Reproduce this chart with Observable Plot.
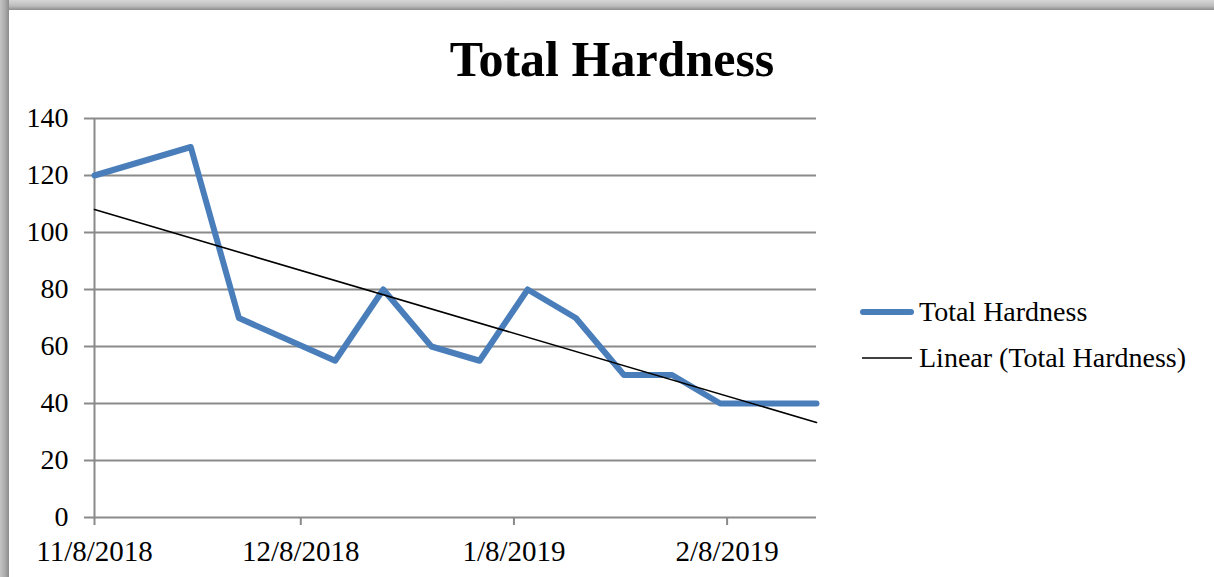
<!DOCTYPE html>
<html>
<head>
<meta charset="utf-8">
<script src="https://cdn.jsdelivr.net/npm/d3@7"></script>
<script src="https://cdn.jsdelivr.net/npm/@observablehq/plot@0.6"></script>
<style>
  html, body { margin: 0; padding: 0; background: #fff; overflow: hidden; }
  #wrap { position: relative; width: 1214px; height: 577px; }
  #topband { position: absolute; left: 0; top: 0; width: 1214px; height: 10px;
    background: linear-gradient(#d6d6d6, #bcbcbc 60%, #8c8c8c); }
  #leftband { position: absolute; left: 0; top: 0; width: 9px; height: 577px;
    background: linear-gradient(90deg, #c4c4c4, #a8a8a8 60%, #8a8a8a); }
  svg { position: absolute; left: 0; top: 0; }
</style>
</head>
<body>
<div id="wrap"><div id="chart"></div><div id="topband"></div><div id="leftband"></div></div>
<script>
const dates = ["2018-11-08","2018-11-22","2018-11-29","2018-12-13","2018-12-20","2018-12-27",
               "2019-01-03","2019-01-10","2019-01-17","2019-01-24","2019-01-31","2019-02-07",
               "2019-02-14","2019-02-21"];
const values = [120,130,70,55,80,60,55,80,70,50,50,40,40,40];
const xTickDates = ["2018-11-08","2018-12-08","2019-01-08","2019-02-08"];
const xTickLabels = ["11/8/2018","12/8/2018","1/8/2019","2/8/2019"];
const yTicks = [0,20,40,60,80,100,120,140];
const title = "Total Hardness";
const seriesName = "Total Hardness";
const trendName = "Linear (Total Hardness)";

const data = dates.map((d, i) => ({date: new Date(d + "T00:00:00Z"), value: values[i]}));
const tickDates = xTickDates.map(d => new Date(d + "T00:00:00Z"));
const labelOf = new Map(tickDates.map((d, i) => [+d, xTickLabels[i]]));

const font = "'Liberation Serif', 'DejaVu Serif', serif";
const gridColor = "#8a8a8a";

const plot = Plot.plot({
  width: 1214,
  height: 577,
  marginLeft: 94,
  marginRight: 398,
  marginTop: 118,
  marginBottom: 60,
  style: {fontFamily: font, fontSize: "28px", color: "#000", background: "transparent"},
  x: {type: "utc", domain: [data[0].date, data[data.length - 1].date]},
  y: {domain: [0, 140]},
  marks: [
    Plot.gridY(yTicks, {stroke: gridColor, strokeOpacity: 1, strokeWidth: 2}),
    Plot.ruleX([data[0].date], {y1: 0, y2: 140, stroke: gridColor, strokeWidth: 2}),
    Plot.axisY(yTicks, {tickSize: 10, tickPadding: 16, stroke: gridColor, strokeWidth: 2,
      fontSize: 28, label: null, tickFormat: d => String(d)}),
    Plot.axisX(tickDates, {tickSize: 8, tickPadding: 15, stroke: gridColor, strokeWidth: 2,
      fontSize: 29, label: null, tickFormat: d => labelOf.get(+d)}),
    Plot.line(data, {x: "date", y: "value", stroke: "#4a7ebb", strokeWidth: 6,
      strokeLinejoin: "round", strokeLinecap: "round"}),
    Plot.linearRegressionY(data, {x: "date", y: "value", ci: 0, stroke: "#000", strokeWidth: 1.6})
  ]
});

const svg = d3.select(plot);
svg.append("text")
  .attr("x", 612).attr("y", 76)
  .attr("text-anchor", "middle")
  .attr("font-family", font).attr("font-weight", "bold").attr("font-size", 50)
  .attr("fill", "#000").text(title);

const leg = svg.append("g").attr("text-anchor", "start");
leg.append("line").attr("x1", 863).attr("x2", 911).attr("y1", 312).attr("y2", 312)
  .attr("stroke", "#4a7ebb").attr("stroke-width", 6).attr("stroke-linecap", "round");
leg.append("text").attr("x", 919).attr("y", 321).attr("text-anchor", "start").attr("font-family", font)
  .attr("font-size", 28).attr("fill", "#000").text(seriesName);
leg.append("line").attr("x1", 862).attr("x2", 912).attr("y1", 358).attr("y2", 358)
  .attr("stroke", "#000").attr("stroke-width", 1.6);
leg.append("text").attr("x", 919).attr("y", 367).attr("text-anchor", "start").attr("font-family", font)
  .attr("font-size", 28).attr("fill", "#000").text(trendName);

document.getElementById("chart").appendChild(plot);
</script>
</body>
</html>
